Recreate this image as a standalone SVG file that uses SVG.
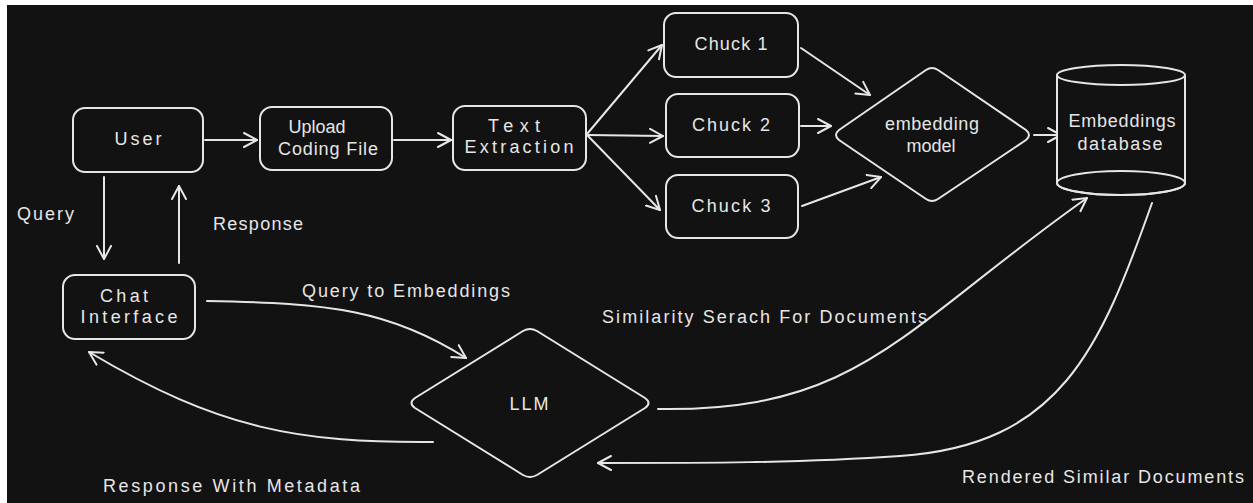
<svg xmlns="http://www.w3.org/2000/svg" width="1253" height="503" viewBox="0 0 1253 503">
<style>
.bg{fill:#121212}
.shape{fill:#121212;stroke:#e6e6e6;stroke-width:2;stroke-linejoin:round}
.conn{fill:none;stroke:#e6e6e6;stroke-width:2;stroke-linecap:round}
text{font-family:"Liberation Sans","DejaVu Sans",sans-serif;font-size:18px;fill:#e6e6e6;text-anchor:middle;dominant-baseline:middle}
.lbl{text-anchor:start}
</style>
<defs>
<marker id="ah" markerUnits="userSpaceOnUse" markerWidth="20" markerHeight="20" refX="14" refY="8" orient="auto" viewBox="0 0 20 16">
<path d="M1,1 L14,8 L1,15" fill="none" stroke="#e6e6e6" stroke-width="2" stroke-linecap="round" stroke-linejoin="round"/>
</marker>
</defs>
<rect x="0" y="0" width="1253" height="503" fill="#ffffff"/>
<rect class="bg" x="7" y="5" width="1246" height="498"/>

<g id="connectors">
<line class="conn" x1="205" y1="140" x2="257" y2="140" marker-end="url(#ah)"/>
<line class="conn" x1="394" y1="140" x2="451" y2="140" marker-end="url(#ah)"/>
<line class="conn" x1="587" y1="134" x2="662" y2="45" marker-end="url(#ah)"/>
<line class="conn" x1="588" y1="135" x2="663" y2="136" marker-end="url(#ah)"/>
<line class="conn" x1="588" y1="136" x2="660" y2="210" marker-end="url(#ah)"/>
<line class="conn" x1="801" y1="48" x2="870" y2="95" marker-end="url(#ah)"/>
<line class="conn" x1="801" y1="126" x2="831" y2="126" marker-end="url(#ah)"/>
<line class="conn" x1="802" y1="206" x2="881" y2="177" marker-end="url(#ah)"/>
<line class="conn" x1="1034" y1="135" x2="1061" y2="135" marker-end="url(#ah)"/>
<line class="conn" x1="104" y1="177" x2="104" y2="259" marker-end="url(#ah)"/>
<line class="conn" x1="179" y1="263" x2="179" y2="186" marker-end="url(#ah)"/>
<path class="conn" d="M207,301 C330,303 390,310 466,358" marker-end="url(#ah)"/>
<path class="conn" d="M433,442 C300,443 220,430 89,352" marker-end="url(#ah)"/>
<path class="conn" d="M658,409 C860,412 900,330 1087,198" marker-end="url(#ah)"/>
<path class="conn" d="M1152,203 C1100,350 1060,445 900,456 C800,463 700,463 598,463" marker-end="url(#ah)"/>
</g>

<g id="labels">
<text class="lbl" x="17" y="215" textLength="57" lengthAdjust="spacing">Query</text>
<text class="lbl" x="213" y="225" textLength="90" lengthAdjust="spacing">Response</text>
<text class="lbl" x="302" y="292" textLength="208" lengthAdjust="spacing">Query to Embeddings</text>
<text class="lbl" x="602" y="318" textLength="325" lengthAdjust="spacing">Similarity Serach For Documents</text>
<text class="lbl" x="103" y="487" textLength="257" lengthAdjust="spacing">Response With Metadata</text>
<text class="lbl" x="962" y="478" textLength="282" lengthAdjust="spacing">Rendered Similar Documents</text>
</g>

<g id="user">
<rect class="shape" x="73" y="108" width="130" height="64" rx="12"/>
<text x="138" y="140" textLength="47" lengthAdjust="spacing">User</text>
</g>
<g id="upload">
<rect class="shape" x="260" y="107" width="132" height="63" rx="12"/>
<text x="317" y="128" textLength="57" lengthAdjust="spacing">Upload</text>
<text x="328" y="150" textLength="100" lengthAdjust="spacing">Coding File</text>
</g>
<g id="text-extraction">
<rect class="shape" x="453" y="106" width="133" height="64" rx="12"/>
<text x="514" y="127" textLength="52" lengthAdjust="spacing">Text</text>
<text x="519" y="148" textLength="109" lengthAdjust="spacing">Extraction</text>
</g>
<g id="chuck1">
<rect class="shape" x="664" y="13" width="134" height="64" rx="12"/>
<text x="731" y="45" textLength="73" lengthAdjust="spacing">Chuck 1</text>
</g>
<g id="chuck2">
<rect class="shape" x="666" y="94" width="133" height="63" rx="12"/>
<text x="731" y="126" textLength="78" lengthAdjust="spacing">Chuck 2</text>
</g>
<g id="chuck3">
<rect class="shape" x="666" y="175" width="132" height="63" rx="12"/>
<text x="731" y="207" textLength="79" lengthAdjust="spacing">Chuck 3</text>
</g>
<g id="embedding-model">
<path class="shape" d="M926,70 Q932,66 938,70 L1026,130 Q1032,135 1026,140 L938,199 Q932,203 926,199 L839,140 Q833,135 839,130 Z"/>
<text x="932" y="125" textLength="94" lengthAdjust="spacing">embedding</text>
<text x="931" y="147" textLength="49" lengthAdjust="spacing">model</text>
</g>
<g id="embeddings-database">
<path class="shape" d="M1057,75 L1057,183 A64,12 0 0 0 1185,183 L1185,75"/>
<ellipse class="shape" cx="1121" cy="75" rx="64" ry="10"/>
<ellipse cx="1121" cy="183" rx="64" ry="12" fill="none" stroke="#e6e6e6" stroke-width="2"/>
<text x="1122" y="122" textLength="107" lengthAdjust="spacing">Embeddings</text>
<text x="1120" y="145" textLength="85" lengthAdjust="spacing">database</text>
</g>
<g id="chat-interface">
<rect class="shape" x="63" y="275" width="132" height="64" rx="12"/>
<text x="124" y="297" textLength="48" lengthAdjust="spacing">Chat</text>
<text x="129" y="318" textLength="97" lengthAdjust="spacing">Interface</text>
</g>
<g id="llm">
<path class="shape" d="M523,331 Q530,327 537,331 L645,398 Q652,403 645,408 L537,475 Q530,479 523,475 L415,408 Q408,403 415,398 Z"/>
<text x="529" y="405" textLength="39" lengthAdjust="spacing">LLM</text>
</g>
</svg>
